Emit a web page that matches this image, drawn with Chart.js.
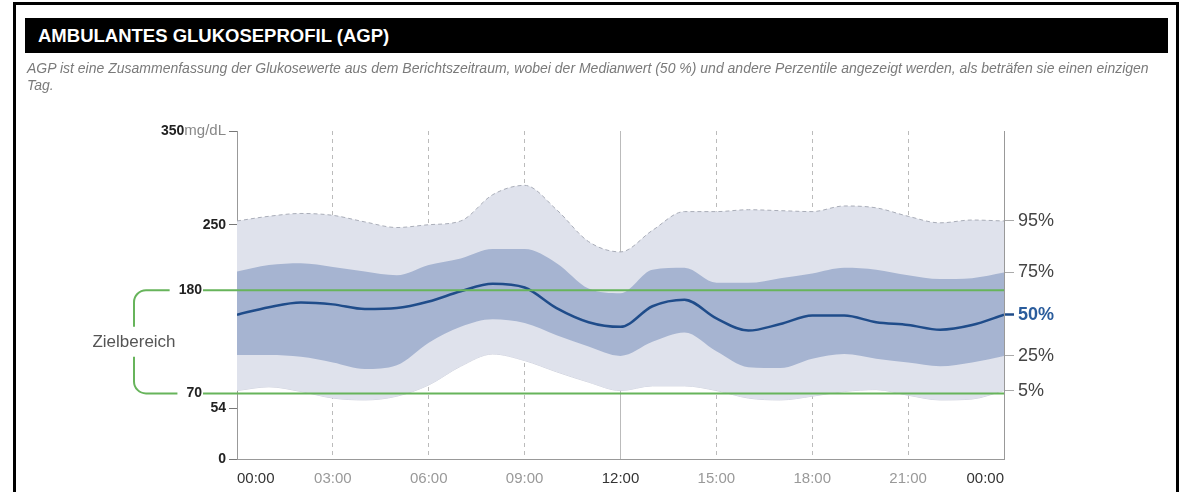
<!DOCTYPE html>
<html>
<head>
<meta charset="utf-8">
<script src="https://cdn.jsdelivr.net/npm/chart.js@4"></script>
<style>
  html, body { margin: 0; padding: 0; background: #fff; }
  body { width: 1188px; height: 492px; position: relative; overflow: hidden; font-family: "Liberation Sans", Arial, sans-serif; }
  #frame { position: absolute; left: 13px; top: 2px; width: 1160px; height: 600px; border: 3px solid #000; }
  #head { position: absolute; left: 25px; top: 18px; width: 1143px; height: 35px; background: #000; color: #fff;
          font-weight: bold; font-size: 18.5px; line-height: 35px; padding-left: 13px; box-sizing: border-box; }
  #desc { position: absolute; left: 27px; top: 60px; width: 1150px; font-size: 14px; line-height: 17px; font-style: italic; color: #7a7a7a; }
  #chart { position: absolute; left: 0; top: 0; }
</style>
</head>
<body>
<div id="frame"></div>
<canvas id="chart" width="1188" height="492"></canvas>
<div id="head">AMBULANTES GLUKOSEPROFIL (AGP)</div>
<div id="desc">AGP ist eine Zusammenfassung der Glukosewerte aus dem Berichtszeitraum, wobei der Medianwert (50 %) und andere Perzentile angezeigt werden, als beträfen sie einen einzigen<br>Tag.</div>
<script>
// Stunden 0..24
const hours = [0, 1, 2, 3, 4, 5, 6, 7, 8, 9, 10, 11, 12, 13, 14, 15, 16, 17, 18, 19, 20, 21, 22, 23, 24];
const hourTicks = [0, 3, 6, 9, 12, 15, 18, 21, 24];
const hourLabels = ["00:00", "03:00", "06:00", "09:00", "12:00", "15:00", "18:00", "21:00", "00:00"];

// Perzentile (mg/dL)
const p95 = [254, 259, 262, 260, 253, 247, 250, 254, 282, 292, 266, 232, 221, 244, 264, 264, 266, 265, 264, 270, 268, 259, 252, 255, 254];
const p75 = [200, 207, 209, 205, 200, 196, 207, 214, 224, 224, 209, 182, 177, 202, 204, 188, 188, 193, 198, 204, 202, 196, 192, 193, 199];
const p50 = [154, 162, 167, 165, 160, 161, 168, 179, 187, 183, 161, 146, 141, 163, 170, 150, 137, 144, 153, 153, 146, 143, 138, 143, 154];
const p25 = [111, 111, 109, 103, 96, 100, 124, 141, 149, 145, 132, 120, 110, 125, 135, 115, 98, 97, 107, 112, 107, 103, 99, 103, 110];
const p5 = [73, 77, 72, 65, 63, 67, 79, 99, 112, 105, 93, 82, 73, 78, 78, 73, 65, 63, 67, 72, 74, 68, 63, 64, 73];

const leftTicks = [0, 54, 70, 180, 250, 350];
const targetRange = [70, 180];
const percentileLabels = ["95%", "75%", "50%", "25%", "5%"];

const GREEN = "#67b45b";
const BLUE = "#1f4c8a";
const FONT = "'Liberation Sans', Arial, sans-serif";

const pts = (arr) => arr.map((v, i) => ({ x: hours[i], y: v }));
const rightSeries = [p95, p75, p50, p25, p5];

// Zielbereich-Klammer, Beschriftung links
const zielPlugin = {
  id: "zielbereich",
  afterDatasetsDraw(chart) {
    const { ctx, chartArea, scales: { y } } = chart;
    const yLo = y.getPixelForValue(targetRange[0]);
    const yHi = y.getPixelForValue(targetRange[1]);
    const labelRight = 202;
    const bx = 134, r = 12;
    ctx.save();
    ctx.font = "bold 14px " + FONT;
    const wHi = ctx.measureText(String(targetRange[1])).width;
    const wLo = ctx.measureText(String(targetRange[0])).width;
    ctx.strokeStyle = GREEN;
    ctx.lineWidth = 2;
    const midY = (yLo + yHi) / 2;
    ctx.beginPath();
    ctx.moveTo(labelRight + 1, yHi);
    ctx.lineTo(chartArea.right, yHi);
    ctx.moveTo(labelRight + 1, yLo);
    ctx.lineTo(chartArea.right, yLo);
    ctx.moveTo(labelRight - wHi - 9, yHi);
    ctx.lineTo(bx + r, yHi);
    ctx.arcTo(bx, yHi, bx, yHi + r, r);
    ctx.lineTo(bx, midY - 15);
    ctx.moveTo(bx, midY + 15);
    ctx.lineTo(bx, yLo - r);
    ctx.arcTo(bx, yLo, bx + r, yLo, r);
    ctx.lineTo(labelRight - wLo - 9, yLo);
    ctx.stroke();

    ctx.fillStyle = "#222";
    ctx.textAlign = "right";
    ctx.textBaseline = "middle";
    ctx.fillText(String(targetRange[1]), labelRight, yHi);
    ctx.fillText(String(targetRange[0]), labelRight, yLo);

    ctx.font = "17px " + FONT;
    ctx.fillStyle = "#555";
    ctx.textAlign = "center";
    ctx.fillText("Zielbereich", bx, midY);

    // 350mg/dL
    const yTop = y.getPixelForValue(leftTicks[leftTicks.length - 1]);
    ctx.font = "15px " + FONT;
    ctx.fillStyle = "#888";
    ctx.textAlign = "right";
    ctx.fillText("mg/dL", 226, yTop);
    const wu = ctx.measureText("mg/dL").width;
    ctx.font = "bold 14px " + FONT;
    ctx.fillStyle = "#222";
    ctx.fillText(String(leftTicks[leftTicks.length - 1]), 226 - wu, yTop);
    ctx.restore();
  },
};

new Chart(document.getElementById("chart"), {
  type: "line",
  data: {
    datasets: [
      { label: "50%", data: pts(p50), borderColor: BLUE, borderWidth: 2.5, fill: false },
      { label: "75%", data: pts(p75), borderWidth: 0, borderColor: "rgba(0,0,0,0)", backgroundColor: "#a6b4d1", fill: { target: 2 } },
      { label: "25%", data: pts(p25), borderWidth: 0, borderColor: "rgba(0,0,0,0)", fill: false },
      { label: "95%", data: pts(p95), borderWidth: 1, borderColor: "#a9adb8", borderDash: [4, 3], backgroundColor: "#dfe2ec", fill: { target: 4 } },
      { label: "5%", data: pts(p5), borderWidth: 1, borderColor: "#d0d3de", fill: false },
    ],
  },
  options: {
    responsive: false,
    animation: false,
    devicePixelRatio: 1,
    layout: { padding: { top: 131, left: 0, right: 0, bottom: 0 } },
    elements: { point: { radius: 0 }, line: { cubicInterpolationMode: "monotone" } },
    plugins: { legend: { display: false }, tooltip: { enabled: false } },
    scales: {
      x: {
        type: "linear",
        min: 0,
        max: 24,
        afterBuildTicks: (s) => { s.ticks = hourTicks.map((v) => ({ value: v })); },
        afterFit: (s) => { s.height = 33; },
        ticks: {
          autoSkip: false,
          maxRotation: 0,
          align: "inner",
          padding: 11,
          font: { size: 15, family: FONT },
          color: (c) => (c.index === 0 || c.index === 4 || c.index === 8 ? "#333" : "#999"),
          callback: (v, i) => hourLabels[i],
        },
        grid: {
          drawTicks: false,
          color: (c) => (c.tick && (c.tick.value === 0 || c.tick.value === 24) ? "rgba(0,0,0,0)" : "#bbb"),
          lineWidth: 1,
        },
        border: { display: true, color: "#999", width: 1, dash: (c) => (c.tick && c.tick.value === 12 ? [] : [4, 4]) },
      },
      y: {
        type: "linear",
        position: "left",
        min: 0,
        max: 350,
        afterBuildTicks: (s) => { s.ticks = leftTicks.map((v) => ({ value: v })); },
        afterFit: (s) => { s.width = 237; },
        ticks: {
          autoSkip: false,
          padding: 3,
          font: { size: 14, weight: "bold", family: FONT },
          color: "#222",
          callback: (v) => (v === 350 || targetRange.includes(v) ? "" : String(v)),
        },
        grid: {
          drawOnChartArea: false,
          tickLength: 8,
          tickColor: (c) => (c.tick && targetRange.includes(c.tick.value) ? "rgba(0,0,0,0)" : "#777"),
        },
        border: { display: true, color: "#999", width: 1 },
      },
      y2: {
        type: "linear",
        position: "right",
        min: 0,
        max: 350,
        afterBuildTicks: (s) => { s.ticks = rightSeries.map((a) => ({ value: a[a.length - 1] })); },
        afterFit: (s) => { s.width = 184; },
        ticks: {
          autoSkip: false,
          padding: 4,
          font: (c) => ({ size: 18, family: FONT, weight: c.index === 2 ? "bold" : "normal" }),
          color: (c) => (c.index === 2 ? "#2a5c9c" : "#444"),
          callback: (v, i) => percentileLabels[i],
        },
        grid: {
          drawOnChartArea: false,
          tickLength: 10,
          tickColor: (c) => (c.index === 2 ? BLUE : "#aaa"),
          tickWidth: (c) => (c.index === 2 ? 2.5 : 1),
        },
        border: { display: true, color: "#999", width: 1 },
      },
    },
  },
  plugins: [zielPlugin],
});
</script>
</body>
</html>
